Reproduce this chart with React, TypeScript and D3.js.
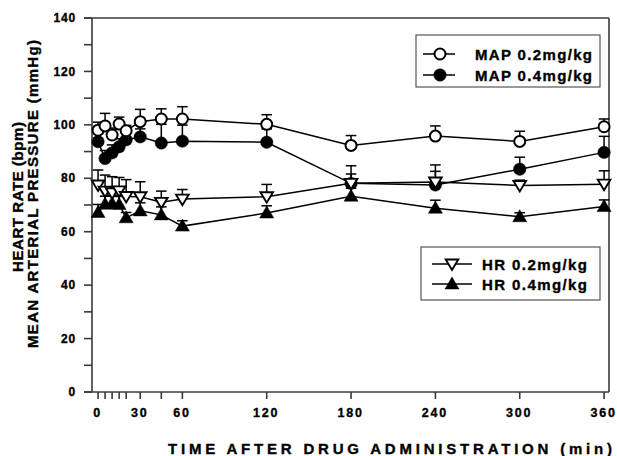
import React from "react";
import * as d3 from "d3";

const times = [0, 5, 10, 15, 20, 30, 45, 60, 120, 180, 240, 300, 360];
const xTickLabels = [0, 30, 60, 120, 180, 240, 300, 360];
const yTicksMajor = [0, 20, 40, 60, 80, 100, 120, 140];
const yTicksAll = [0, 10, 20, 30, 40, 50, 60, 70, 80, 90, 100, 110, 120, 130, 140];

const map02 = [98, 99.6, 96.2, 100.3, 97.8, 101.2, 102.2, 102.2, 100.2, 92.3, 95.8, 93.8, 99.3];
const map02Err = [3, 4.7, 2.6, 2.6, 2, 4.6, 3.8, 4.6, 3.6, 3.7, 3.8, 3.8, 2.9];
const map04 = [93.7, 87.4, 89.5, 91.8, 94.4, 95.5, 93.2, 93.9, 93.5, 78.1, 77.5, 83.4, 89.7];
const map04Err = [3, 3, 3, 3, 3, 3, 7, 6, 5, 6.6, 7.5, 4.5, 6];
const hr02 = [77.5, 75.2, 74.6, 75.3, 73.2, 73.1, 71.0, 72.2, 73.1, 78.1, 78.6, 77.3, 77.8];
const hr02Err = [5.6, 6, 6, 5, 6.3, 5.6, 4.2, 3.6, 4.6, 3.5, 4, 2, 5];
const hr04 = [67.2, 70.3, 70.6, 70.2, 65.2, 67.8, 66.3, 62.1, 67, 73.3, 68.8, 65.6, 69.4];
const hr04Err = [3, 3, 3, 3, 2, 3, 3, 2, 2.7, 3, 3, 1.5, 2.5];

const seriesNames = ["MAP 0.2mg/kg", "MAP 0.4mg/kg", "HR 0.2mg/kg", "HR 0.4mg/kg"];
const yTitleLines = ["HEART RATE (bpm)", "MEAN ARTERIAL PRESSURE (mmHg)"];
const xTitle = "TIME AFTER DRUG ADMINISTRATION (min)";

const FONT = "'Liberation Sans', Arial, sans-serif";

type Kind = "openCircle" | "filledCircle" | "openDown" | "filledUp";

function Marker({ kind, x, y }: { kind: Kind; x: number; y: number }) {
  if (kind === "openCircle" || kind === "filledCircle") {
    const open = kind === "openCircle";
    return (
      <circle cx={x} cy={y} r={open ? 5.5 : 6.2} fill={open ? "#fff" : "#000"} stroke="#000" strokeWidth={open ? 2 : 0.5} />
    );
  }
  if (kind === "openDown") {
    const p = `M${x - 6.3},${y - 4.5} L${x + 6.3},${y - 4.5} L${x},${y + 6} Z`;
    return <path d={p} fill="#fff" stroke="#000" strokeWidth={1.9} strokeLinejoin="miter" />;
  }
  const p = `M${x - 7},${y + 5} L${x + 7},${y + 5} L${x},${y - 7} Z`;
  return <path d={p} fill="#000" stroke="#000" strokeWidth={0.5} />;
}

export default function App() {
  const W = 617;
  const H = 456;
  const x = d3.scaleLinear().domain([-4.3, 363.5]).range([92, 609]);
  const y = d3.scaleLinear().domain([0, 140]).range([392, 18]);

  const series = [
    { vals: map04, err: map04Err, kind: "filledCircle" as Kind },
    { vals: map02, err: map02Err, kind: "openCircle" as Kind },
    { vals: hr04, err: hr04Err, kind: "filledUp" as Kind },
    { vals: hr02, err: hr02Err, kind: "openDown" as Kind },
  ];

  const line = d3
    .line<number>()
    .x((_, i) => x(times[i]))
    .y((d) => y(d));

  const left = 92, top = 18, right = 609, bottom = 392;
  const txt = { fontWeight: "bold" as const, stroke: "#000", strokeWidth: 0.35 };

  return (
    <svg width={W} height={H} style={{ display: "block", position: "absolute", left: 0, top: 0 }} fontFamily={FONT}>
      <rect x={0} y={0} width={W} height={H} fill="#fff" />
      {/* frame */}
      <g stroke="#3a3a3a" strokeWidth={1.6} fill="none">
        <line x1={84} y1={top} x2={right} y2={top} />
        <line x1={84} y1={bottom} x2={right} y2={bottom} />
        <line x1={left} y1={top} x2={left} y2={bottom} />
        <line x1={right} y1={top} x2={right} y2={bottom} />
        {yTicksAll.map((t) => (
          <line key={"yt" + t} x1={84} x2={left} y1={y(t)} y2={y(t)} />
        ))}
        {times.map((t) => (
          <line key={"xt" + t} x1={x(t)} x2={x(t)} y1={bottom} y2={bottom + 7} />
        ))}
      </g>
      {/* y tick labels */}
      {yTicksMajor.map((t) => (
        <text key={"yl" + t} x={76} y={y(t) + 4.2} textAnchor="end" fontSize={12} letterSpacing={0.8} {...txt}>
          {t}
        </text>
      ))}
      {/* x tick labels */}
      {xTickLabels.map((t) => (
        <text key={"xl" + t} x={x(t) - 0.5} y={416.5} textAnchor="middle" fontSize={12.5} letterSpacing={1.8} {...txt}>
          {t}
        </text>
      ))}
      {/* axis titles */}
      <text x={390} y={454} textAnchor="middle" fontSize={15} textLength={444} lengthAdjust="spacing" {...txt}>
        {xTitle}
      </text>
      <text transform="translate(23,197) rotate(-90)" textAnchor="middle" fontSize={15} textLength={150} lengthAdjust="spacing" {...txt}>
        {yTitleLines[0]}
      </text>
      <text transform="translate(38,194) rotate(-90)" textAnchor="middle" fontSize={15} textLength={308} lengthAdjust="spacing" {...txt}>
        {yTitleLines[1]}
      </text>
      {/* lines and error bars */}
      {series.map((s, si) => (
        <g key={"l" + si} stroke="#000" strokeWidth={1.5} fill="none">
          <path d={line(s.vals) || ""} />
          {s.vals.map((v, i) => (
            <g key={i}>
              <line x1={x(times[i])} x2={x(times[i])} y1={y(v)} y2={y(v + s.err[i])} />
              <line x1={x(times[i]) - 5.3} x2={x(times[i]) + 5.3} y1={y(v + s.err[i])} y2={y(v + s.err[i])} />
            </g>
          ))}
        </g>
      ))}
      {/* markers */}
      {series.map((s, si) => (
        <g key={"m" + si}>
          {s.vals.map((v, i) => (
            <Marker key={i} kind={s.kind} x={x(times[i])} y={y(v)} />
          ))}
        </g>
      ))}
      {/* legend 1 */}
      <rect x={416} y={35} width={184} height={52} fill="#fff" stroke="#555" strokeWidth={1.2} />
      <line x1={423} x2={455} y1={54} y2={54} stroke="#000" strokeWidth={1.5} />
      <Marker kind="openCircle" x={440} y={54} />
      <text x={475} y={59.5} fontSize={15} textLength={117} lengthAdjust="spacing" {...txt}>
        {seriesNames[0]}
      </text>
      <line x1={423} x2={455} y1={75} y2={75} stroke="#000" strokeWidth={1.5} />
      <Marker kind="filledCircle" x={440} y={75} />
      <text x={475} y={80.5} fontSize={15} textLength={117} lengthAdjust="spacing" {...txt}>
        {seriesNames[1]}
      </text>
      {/* legend 2 */}
      <rect x={421} y={247} width={179} height={53} fill="#fff" stroke="#555" strokeWidth={1.2} />
      <line x1={432} x2={472} y1={264} y2={264} stroke="#000" strokeWidth={1.5} />
      <Marker kind="openDown" x={452} y={264} />
      <text x={482} y={269.5} fontSize={15} textLength={105} lengthAdjust="spacing" {...txt}>
        {seriesNames[2]}
      </text>
      <line x1={432} x2={472} y1={284} y2={284} stroke="#000" strokeWidth={1.5} />
      <Marker kind="filledUp" x={452} y={284} />
      <text x={482} y={289.5} fontSize={15} textLength={105} lengthAdjust="spacing" {...txt}>
        {seriesNames[3]}
      </text>
    </svg>
  );
}
